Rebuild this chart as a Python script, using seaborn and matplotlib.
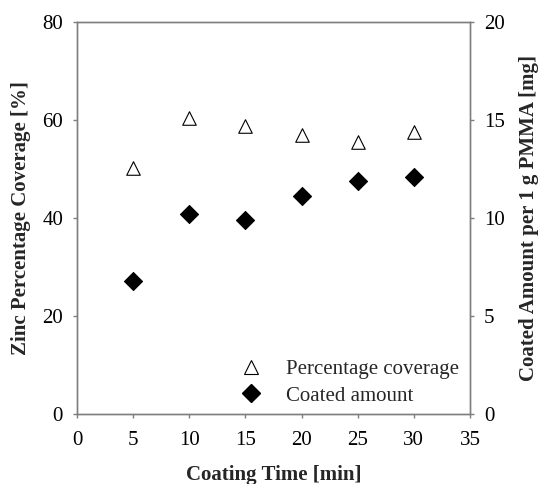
import matplotlib
matplotlib.use("Agg")
import matplotlib.pyplot as plt
import seaborn as sns
import pandas as pd
from matplotlib.lines import Line2D

# data
coating_time = [5, 10, 15, 20, 25, 30]
coverage_pct = [50.2, 60.5, 58.7, 57.0, 55.6, 57.5]
coated_amount = [6.8, 10.2, 9.9, 11.1, 11.9, 12.1]

df = pd.DataFrame({"time": coating_time, "coverage": coverage_pct, "amount": coated_amount})

sns.set_theme(style="white")
plt.rcParams['font.family'] = ['Liberation Serif', 'DejaVu Serif']

fig = plt.figure(figsize=(5.4, 4.84), dpi=100)
ax = fig.add_axes([0.1426, 0.1446, 0.7278, 0.81])
ax2 = ax.twinx()

sns.scatterplot(data=df, x="time", y="coverage", ax=ax, marker="^", s=95,
                facecolor="white", edgecolor="black", linewidth=0.8, zorder=3)
sns.scatterplot(data=df, x="time", y="amount", ax=ax2, marker="D", s=85,
                color="black", edgecolor="black", zorder=3)

ax.set_xlim(0, 35)
ax.set_xticks(range(0, 36, 5))
ax.set_ylim(0, 80)
ax.set_yticks(range(0, 81, 20))
ax2.set_ylim(0, 20)
ax2.set_yticks(range(0, 21, 5))

for a in (ax, ax2):
    for sp in a.spines.values():
        sp.set_color("#7f7f7f")
        sp.set_linewidth(1.0)
    a.tick_params(direction="out", length=3, width=1.0, color="#7f7f7f",
                  labelsize=15, labelcolor="black", pad=7)

ax.tick_params(axis="y", left=True)
ax.tick_params(axis="x", bottom=True, pad=9)
ax2.tick_params(axis="y", right=True)

ax.set_xlabel("Coating Time [min]", fontsize=15, fontweight="bold", labelpad=11)
ax.set_ylabel("Zinc Percentage Coverage [%]", fontsize=15, fontweight="bold", labelpad=8)
ax2.set_ylabel("Coated Amount per 1 g PMMA [mg]", fontsize=15, fontweight="bold", labelpad=10)

handles = [
    Line2D([], [], linestyle="none", marker="^", markersize=10,
           markerfacecolor="white", markeredgecolor="black", markeredgewidth=0.8),
    Line2D([], [], linestyle="none", marker="D", markersize=9,
           markerfacecolor="black", markeredgecolor="black"),
]
ax2.legend(handles, ["Percentage coverage", "Coated amount"], loc="lower right",
           bbox_to_anchor=(1.008, -0.016), frameon=False, fontsize=15,
           handletextpad=0.85, labelspacing=0.32, borderpad=0.2, handlelength=1.6)

plt.savefig("out.png", dpi=100)
